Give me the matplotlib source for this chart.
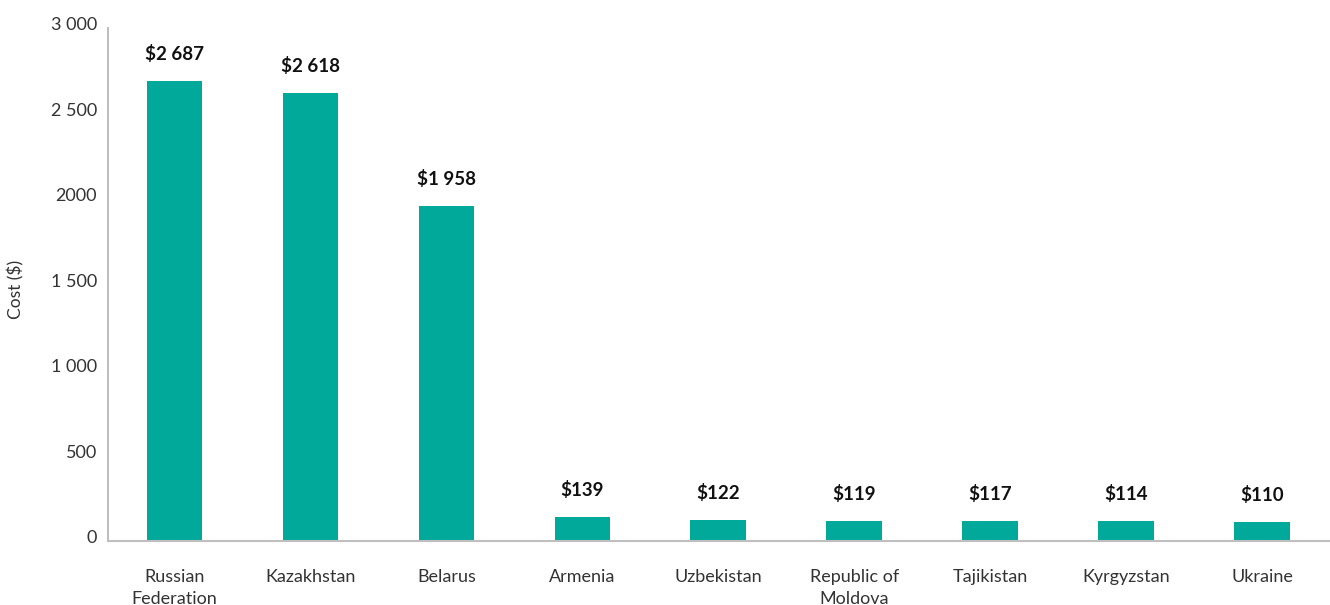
import matplotlib.pyplot as plt
from matplotlib.transforms import ScaledTranslation

countries = ['Russian\nFederation', 'Kazakhstan', 'Belarus', 'Armenia', 'Uzbekistan',
             'Republic of\nMoldova', 'Tajikistan', 'Kyrgyzstan', 'Ukraine']
costs = [2687, 2618, 1958, 139, 122, 119, 117, 114, 110]
cost_labels = ['$2 687', '$2 618', '$1 958', '$139', '$122', '$119', '$117', '$114', '$110']
y_ticks = [0, 500, 1000, 1500, 2000, 2500, 3000]
y_tick_labels = ['0', '500', '1 000', '1 500', '2000', '2 500', '3 000']

plt.rcParams['font.family'] = ['Lato', 'DejaVu Sans']

fig = plt.figure(figsize=(13.3, 6.05), dpi=100)
ax = fig.add_axes([0.0812, 0.1058, 0.9188, 0.848])

x = range(len(countries))
ax.bar(x, costs, width=0.41, color='#00A99A')

# value labels above bars
for i, (v, lab) in enumerate(zip(costs, cost_labels)):
	ax.annotate(lab, (i, v), xytext=(0, 13), textcoords='offset points',
				ha='center', va='bottom', fontsize=13.5, fontweight='bold', color='#111111')

ax.set_xlim(-0.49, 8.5)
ax.set_ylim(0, 3000)
ax.set_xticks(list(x))
ax.set_xticklabels(countries, fontsize=13, color='#333333', linespacing=1.5)
ax.set_yticks(y_ticks)
ax.set_yticklabels(y_tick_labels, fontsize=13, color='#333333')
ax.tick_params(axis='x', length=0, pad=20)
ax.tick_params(axis='y', length=0, pad=8)
ax.set_ylabel('Cost ($)', fontsize=12.5, color='#333333')
ax.yaxis.set_label_coords(-0.068, 0.49)

# nudge y tick labels up a little
shift = ScaledTranslation(0, 4 / 100, fig.dpi_scale_trans)
for lbl in ax.get_yticklabels():
	lbl.set_transform(lbl.get_transform() + shift)

for side in ['top', 'right']:
	ax.spines[side].set_visible(False)
for side in ['left', 'bottom']:
	ax.spines[side].set_color('#bfbfbf')
	ax.spines[side].set_linewidth(1.5)

fig.savefig('out.png', dpi=100)
